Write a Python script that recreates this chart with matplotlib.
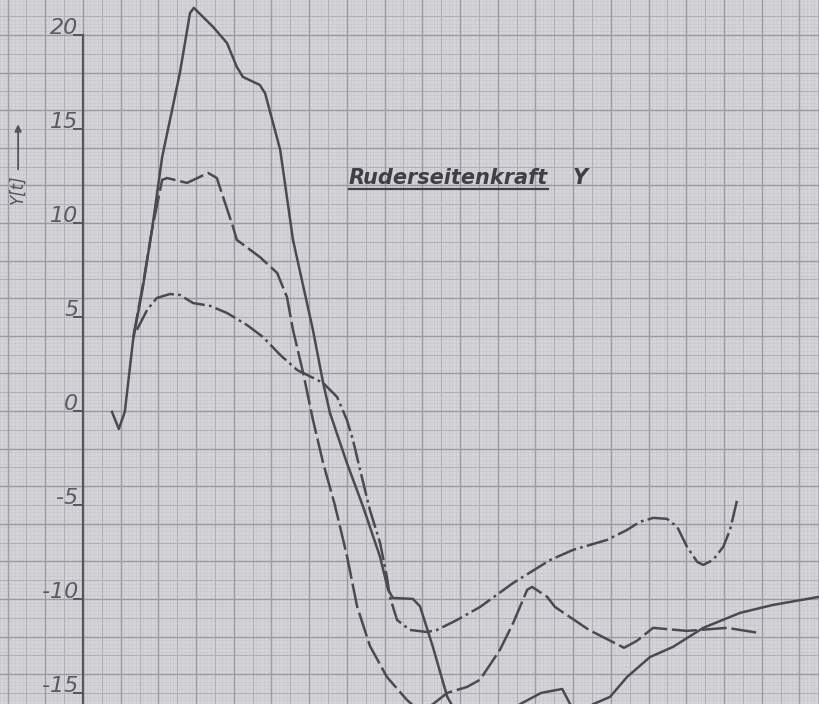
import numpy as np
import matplotlib
matplotlib.use('Agg')
from matplotlib import pyplot as plt

# data: x in cm of paper from the Y axis, y in t
solid_x = [0.77, 0.95, 1.11, 1.33, 1.59, 1.83, 2.10, 2.57, 2.84, 2.94, 3.45, 3.82, 4.08, 4.24,
           4.69, 4.83, 5.23, 5.57, 6.10, 6.37, 6.55, 7.00, 7.43, 7.88, 8.09, 8.22, 8.75, 8.94,
           9.28, 9.66, 10.3, 10.9, 11.59, 12.15, 12.71, 12.92, 13.2, 13.53, 13.98, 14.43,
           15.04, 15.65, 16.45, 17.43, 18.3, 19.52]
solid_y = [-0.05, -0.96, -0.05, 3.78, 6.6, 9.63, 13.5, 17.98, 21.17, 21.44, 20.43, 19.57, 18.3, 17.77,
           17.34, 16.9, 13.9, 9.1, 4.3, 1.49, -0.1, -2.77, -5.1, -7.77, -9.5, -9.95, -10.0, -10.4,
           -12.55, -15.2, -17.5, -17.0, -15.6, -15.0, -14.79, -15.6, -16.0, -15.6, -15.21, -14.15,
           -13.09, -12.55, -11.54, -10.74, -10.32, -9.89]

dash_x = [1.33, 1.59, 1.83, 2.10, 2.23, 2.76, 3.32, 3.55, 3.63, 3.98, 4.08, 4.69, 5.15, 5.41,
          5.57, 5.84, 6.10, 6.37, 6.68, 7.0, 7.27, 7.61, 8.06, 8.59, 8.94, 9.28, 9.66, 10.19,
          10.53, 11.06, 11.41, 11.78, 11.91, 12.31, 12.52, 13.42, 14.35, 14.69, 15.12, 16.02,
          17.08, 17.9]
dash_y = [3.9, 6.7, 9.63, 12.29, 12.39, 12.13, 12.66, 12.39, 11.9, 9.79, 9.1, 8.19, 7.34, 6.06,
          4.31, 2.02, -0.48, -2.77, -5.0, -7.7, -10.4, -12.5, -14.15, -15.37, -16.0, -15.6, -15.0, -14.68,
          -14.3, -12.7, -11.28, -9.52, -9.36, -9.89, -10.43, -11.65, -12.6, -12.23, -11.54, -11.7,
          -11.54, -11.8]

dashdot_x = [1.43, 1.70, 1.96, 2.31, 2.57, 2.92, 3.37, 3.82, 4.35, 4.77, 5.23, 5.68, 6.10, 6.37,
             6.74, 7.0, 7.16, 7.35, 7.61, 7.88, 8.06, 8.14, 8.33, 8.67, 9.12, 9.39, 9.92, 10.53,
             11.41, 12.39, 13.0, 13.9, 14.43, 14.77, 15.12, 15.49, 15.76, 16.02, 16.29, 16.45,
             16.71, 16.98, 17.16, 17.35]
dashdot_y = [4.31, 5.37, 6.01, 6.22, 6.17, 5.74, 5.59, 5.21, 4.57, 3.94, 2.98, 2.18, 1.76, 1.49,
             0.74, -0.48, -1.54, -3.14, -5.27, -7.02, -8.83, -9.89, -11.12, -11.65, -11.76, -11.65,
             -11.12, -10.43, -9.15, -7.93, -7.39, -6.86, -6.33, -5.9, -5.69, -5.74, -6.17, -7.23,
             -8.03, -8.19, -7.93, -7.23, -6.33, -4.73]

tick_vals = [20, 15, 10, 5, 0, -5, -10, -15]

paper = '#d5d5d9'
ink = '#4a4a50'

plt.rcParams['lines.scale_dashes'] = False
fig = plt.figure(figsize=(8.19, 7.04), dpi=100, facecolor=paper)
ax = fig.add_axes([0, 0, 1, 1])
ax.set_facecolor(paper)
ax.set_xlim(-2.20, 19.52)
ax.set_ylim(-15.59, 21.86)
ax.axis('off')

# graph paper: mm lines, half cm lines, cm lines (1 cm = 2 t)
for v in np.arange(-2.2, 19.6, 0.1):
    ax.axvline(v, color='#c6c6cb', lw=0.45, zorder=0)
for v in np.arange(-16.0, 22.0, 0.2):
    ax.axhline(v, color='#c6c6cb', lw=0.45, zorder=0)
for v in np.arange(-2.0, 19.6, 0.5):
    ax.axvline(v, color='#b0b0b6', lw=0.8, zorder=0)
for v in np.arange(-16.0, 22.0, 1.0):
    ax.axhline(v, color='#b0b0b6', lw=0.8, zorder=0)
for v in np.arange(-2.0, 19.6, 1.0):
    ax.axvline(v, color='#9a9aa0', lw=1.0, zorder=0)
for v in np.arange(-16.0, 22.0, 2.0):
    ax.axhline(v, color='#9a9aa0', lw=1.0, zorder=0)

# Y axis with ticks and labels
ax.plot([0, 0], [20, -15.59], color='#55555b', lw=1.6, zorder=1)
for t in tick_vals:
    ax.plot([-0.25, 0], [t, t], color='#55555b', lw=1.4, zorder=1)
    ax.text(-0.12, t + 0.05, str(t), ha='right', va='baseline', fontsize=16,
            style='italic', color='#5a5a60')

ax.text(-1.72, 11.8, 'Y[t]', rotation=90, ha='center', va='center', fontsize=12,
        style='italic', color='#55555b')
ax.annotate('', xy=(-1.72, 15.4), xytext=(-1.72, 12.7),
            arrowprops=dict(arrowstyle='-|>', color='#55555b', lw=1.3, mutation_scale=10))

# the three curves
ax.plot(solid_x, solid_y, color=ink, lw=1.8, zorder=3)
ax.plot(dash_x, dash_y, color=ink, lw=1.8, linestyle=(0, (18, 3.5)), zorder=3)
ax.plot(dashdot_x, dashdot_y, color=ink, lw=1.8, linestyle=(0, (16, 3, 2, 3)), zorder=3)

# title with underline
title = ax.text(7.05, 12.4, 'Ruderseitenkraft', fontsize=15, style='italic',
                fontweight='bold', color='#3f3f45', ha='left', va='center')
ax.text(13.0, 12.4, 'Y', fontsize=15, style='italic', fontweight='bold',
        color='#3f3f45', ha='left', va='center')
fig.canvas.draw()
bb = title.get_window_extent().transformed(ax.transData.inverted())
ax.plot([bb.x0, bb.x1], [bb.y0 - 0.05, bb.y0 - 0.05], color='#3f3f45', lw=1.6)

plt.savefig('out.png', dpi=100, facecolor=paper)
